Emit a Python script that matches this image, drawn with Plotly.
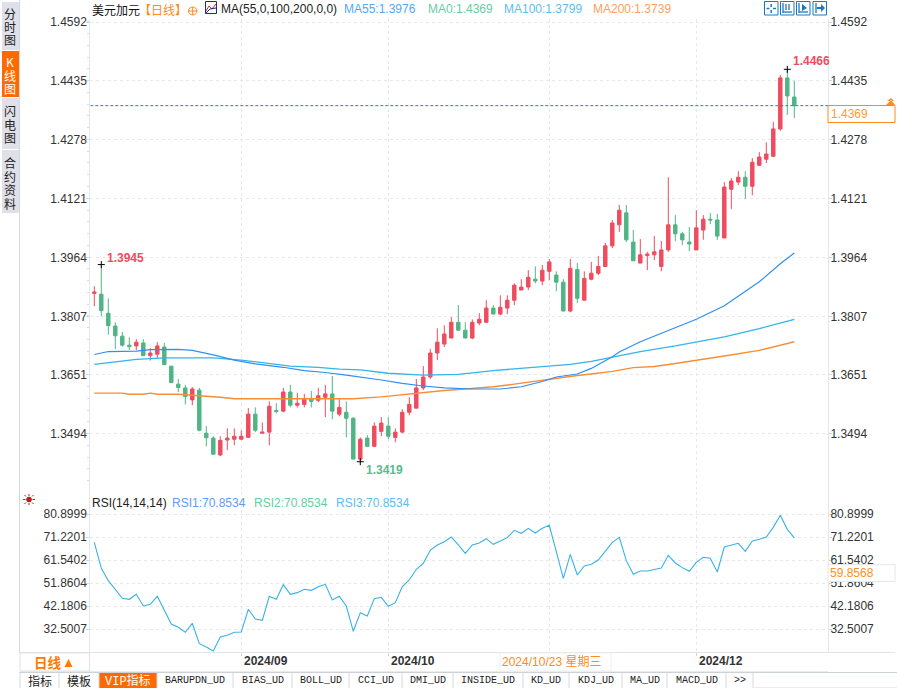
import plotly.graph_objects as go

W, H = 897, 688

candle_up = [1,0,0,0,0,0,1,0,1,1,0,0,0,0,1,0,0,0,1,1,1,1,1,0,1,1,0,1,0,1,1,0,1,1,0,1,0,0,1,0,
             1,1,0,1,1,1,1,1,1,1,1,1,0,0,1,1,1,0,1,1,1,1,1,0,1,1,0,0,1,0,1,1,1,1,1,1,0,0,1,1,
             1,1,1,0,0,0,1,1,0,0,1,1,1,0,1,1,1,1,1,0,0]
highs = [1.3887,1.3945,1.3855,1.3791,1.3765,1.3751,1.3746,1.3746,1.3722,1.3738,1.3736,1.3674,1.3640,1.3624,1.3618,1.3616,1.3514,1.3487,1.3487,1.3508,
         1.3508,1.3503,1.3562,1.3564,1.3524,1.3580,1.3575,1.3616,1.3624,1.3603,1.3600,1.3608,1.3616,1.3624,1.3648,1.3586,1.3580,1.3538,1.3484,1.3490,
         1.3524,1.3538,1.3538,1.3508,1.3559,1.3591,1.3640,1.3674,1.3720,1.3775,1.3783,1.3805,1.3837,1.3791,1.3799,1.3815,1.3850,1.3837,1.3863,1.3863,
         1.3895,1.3906,1.3930,1.3940,1.3944,1.3960,1.3927,1.3906,1.3960,1.3949,1.3927,1.3952,1.3968,1.4003,1.4064,1.4104,1.4104,1.4037,1.4013,1.3979,
         1.4021,1.4008,1.4178,1.4077,1.4032,1.4045,1.4090,1.4077,1.4083,1.4080,1.4165,1.4176,1.4194,1.4194,1.4229,1.4245,1.4271,1.4326,1.4451,1.4466,1.4435]
body_tops = [1.3872,1.3866,1.3815,1.3781,1.3754,1.3730,1.3738,1.3736,1.3709,1.3728,1.3725,1.3674,1.3626,1.3616,1.3613,1.3610,1.3495,1.3482,1.3476,1.3482,
             1.3487,1.3487,1.3546,1.3546,1.3498,1.3567,1.3556,1.3605,1.3605,1.3575,1.3586,1.3588,1.3595,1.3600,1.3600,1.3564,1.3551,1.3535,1.3479,1.3482,
             1.3514,1.3522,1.3514,1.3498,1.3551,1.3572,1.3616,1.3645,1.3709,1.3738,1.3760,1.3791,1.3791,1.3770,1.3791,1.3799,1.3829,1.3829,1.3831,1.3850,
             1.3890,1.3885,1.3911,1.3906,1.3930,1.3952,1.3917,1.3898,1.3935,1.3932,1.3908,1.3922,1.3940,1.3995,1.4056,1.4090,1.4083,1.4005,1.3971,1.3973,
             1.3979,1.3984,1.4051,1.4051,1.4027,1.4005,1.4043,1.4066,1.4066,1.4064,1.4152,1.4168,1.4178,1.4178,1.4218,1.4232,1.4240,1.4307,1.4443,1.4443,1.4392]
body_bots = [1.3868,1.3822,1.3782,1.3755,1.3730,1.3726,1.3728,1.3702,1.3702,1.3706,1.3678,1.3630,1.3617,1.3593,1.3584,1.3503,1.3483,1.3439,1.3437,1.3477,
             1.3479,1.3479,1.3484,1.3503,1.3495,1.3498,1.3553,1.3554,1.3570,1.3570,1.3572,1.3580,1.3583,1.3591,1.3554,1.3546,1.3535,1.3426,1.3426,1.3460,
             1.3460,1.3500,1.3487,1.3484,1.3498,1.3551,1.3562,1.3616,1.3645,1.3709,1.3733,1.3749,1.3770,1.3749,1.3749,1.3789,1.3791,1.3813,1.3813,1.3829,
             1.3850,1.3877,1.3885,1.3901,1.3901,1.3927,1.3898,1.3821,1.3821,1.3855,1.3850,1.3906,1.3922,1.3940,1.3995,1.4051,1.4011,1.3955,1.3949,1.3969,
             1.3971,1.3940,1.3984,1.4027,1.4011,1.4000,1.3984,1.4037,1.4064,1.4021,1.4016,1.4146,1.4165,1.4154,1.4154,1.4210,1.4226,1.4234,1.4307,1.4395,1.4369]
lows = [1.3834,1.3807,1.3758,1.3720,1.3726,1.3717,1.3717,1.3702,1.3689,1.3696,1.3678,1.3630,1.3605,1.3572,1.3570,1.3500,1.3460,1.3439,1.3434,1.3450,
        1.3463,1.3479,1.3484,1.3498,1.3495,1.3463,1.3548,1.3551,1.3564,1.3564,1.3564,1.3564,1.3578,1.3538,1.3532,1.3540,1.3484,1.3426,1.3419,1.3458,
        1.3458,1.3487,1.3479,1.3471,1.3495,1.3543,1.3562,1.3610,1.3640,1.3690,1.3725,1.3749,1.3770,1.3749,1.3746,1.3783,1.3791,1.3813,1.3810,1.3813,
        1.3837,1.3877,1.3877,1.3895,1.3890,1.3903,1.3874,1.3821,1.3818,1.3842,1.3850,1.3903,1.3917,1.3940,1.3989,1.4032,1.4005,1.3955,1.3949,1.3930,
        1.3957,1.3927,1.3979,1.4008,1.3997,1.3981,1.3984,1.4011,1.4053,1.4011,1.4016,1.4093,1.4157,1.4120,1.4130,1.4208,1.4216,1.4232,1.4302,1.4344,1.4336]
opens = [b if u else t for u, t, b in zip(candle_up, body_tops, body_bots)]
closes = [t if u else b for u, t, b in zip(candle_up, body_tops, body_bots)]

ma55_idx = [0,2,6,8,12,14,17,20,23,27,30,33,36,38,41,44,47,50,54,58,61,64,66,69,71,74,75,78,82,86,90,93,95,98,100]
ma55_val = [1.3705,1.3713,1.3714,1.3718,1.3719,1.3716,1.3704,1.3690,1.3680,1.3671,1.3662,1.3657,1.3650,1.3644,1.3637,1.3628,1.3621,1.3616,1.3613,1.3613,
            1.3619,1.3633,1.3645,1.3653,1.3668,1.3699,1.3712,1.3739,1.3770,1.3799,1.3835,1.3872,1.3899,1.3947,1.3976]
ma100_idx = [0,3,6,10,14,17,21,25,28,32,35,38,42,47,50,52,57,61,64,68,71,73,78,83,86,90,95,100]
ma100_val = [1.3679,1.3685,1.3692,1.3696,1.3697,1.3696,1.3690,1.3681,1.3674,1.3671,1.3666,1.3664,1.3655,1.3650,1.3650,1.3652,1.3662,1.3668,1.3673,1.3679,
             1.3687,1.3694,1.3713,1.3728,1.3739,1.3752,1.3774,1.3799]
ma200_idx = [0,4,5,7,8,9,12,15,18,20,37,41,44,47,50,53,57,60,64,67,69,71,74,77,80,83,86,90,95,100]
ma200_val = [1.3602,1.3602,1.3599,1.3599,1.3602,1.3599,1.3599,1.3596,1.3591,1.3587,1.3587,1.3592,1.3598,1.3603,1.3609,1.3613,1.3619,1.3626,1.3637,1.3644,
             1.3649,1.3653,1.3660,1.3670,1.3673,1.3681,1.3689,1.3701,1.3716,1.3739]

rsi = [68.98,58.04,52.85,48.92,45.42,45.00,47.10,42.19,42.89,46.26,40.51,34.62,33.22,31.11,34.90,26.34,24.94,23.26,29.15,29.85,
       31.11,31.25,40.79,36.72,36.16,46.26,45.00,51.17,47.10,47.80,49.21,48.78,50.33,51.31,44.72,46.26,42.19,31.53,39.39,37.99,
       45.28,45.84,42.05,43.60,50.33,53.13,57.62,60.14,65.61,67.86,69.26,71.22,67.86,64.35,67.86,68.70,70.52,68.14,69.54,70.94,
       74.03,72.77,74.87,72.91,74.87,76.13,65.05,53.83,63.93,55.24,59.02,59.72,61.55,65.33,68.98,71.08,61.27,55.52,56.92,56.92,
       57.62,58.18,63.51,60.29,58.32,56.78,60.57,62.67,62.25,56.50,67.02,67.72,68.56,65.19,69.54,70.24,71.22,75.29,80.34,74.45,70.85]

price_ticks = [1.4592,1.4435,1.4278,1.4121,1.3964,1.3807,1.3651,1.3494]
rsi_ticks = [80.8999,71.2201,61.5402,51.8604,42.1806,32.5007]
month_idx = [21,42,65,86]
month_labels = ["2024/09","2024/10","","2024/12"]
last_close = 1.4369
top_tabs = ["BARUPDN_UD","BIAS_UD","BOLL_UD","CCI_UD","DMI_UD","INSIDE_UD","KD_UD","KDJ_UD","MA_UD","MACD_UD",">>"]

RED, GREEN = "#ee4d5f", "#50b585"
BLUE, SKY, ORANGE = "#2f8ff5", "#33b5e8", "#f98d35"
GRID = "#e8e8e8"
SANS = "Liberation Sans, Arial, sans-serif"
CJK = "Noto Sans CJK SC, sans-serif"
MONO = "Liberation Mono, monospace"

idx = list(range(len(highs)))

def fx(p): return p / W
def fy(p): return 1 - p / H

x_range = [(90.3 - 94.3) / 7, (828 - 94.3) / 7]
PX = 0.0002668
price_range = [1.4466 - (492 - 69.3) * PX, 1.4466 + (69.3 - 19) * PX]
rsi_range = [32.5007 - (652.3 - 629) / 2.376, 80.8999 + (514 - 492.3) / 2.376]

fig = go.Figure()
fig.add_trace(go.Scatter(x=ma200_idx, y=ma200_val, mode="lines", line=dict(color=ORANGE, width=1.4), hoverinfo="skip"))
fig.add_trace(go.Scatter(x=ma100_idx, y=ma100_val, mode="lines", line=dict(color=SKY, width=1.3), hoverinfo="skip"))
fig.add_trace(go.Scatter(x=ma55_idx, y=ma55_val, mode="lines", line=dict(color=BLUE, width=1.2), hoverinfo="skip"))
fig.add_trace(go.Candlestick(x=idx, open=opens, high=highs, low=lows, close=closes,
                             increasing=dict(line=dict(color=RED, width=1), fillcolor=RED),
                             decreasing=dict(line=dict(color=GREEN, width=1), fillcolor=GREEN),
                             whiskerwidth=0))
ext_i = [1, 38, 99]
ext_v = [highs[1], lows[38], highs[99]]
fig.add_trace(go.Scatter(x=ext_i, y=ext_v, mode="markers",
                         marker=dict(symbol="cross-thin", size=5, line=dict(color="#000", width=1)), hoverinfo="skip"))
fig.add_trace(go.Scatter(x=idx, y=rsi, xaxis="x2", yaxis="y2", mode="lines",
                         line=dict(color="#38b2e6", width=1.1), hoverinfo="skip"))
fig.add_trace(go.Scatter(x=[0], y=[price_ticks[0]], yaxis="y3", mode="lines", opacity=0, hoverinfo="skip"))
fig.add_trace(go.Scatter(x=[0], y=[rsi_ticks[0]], xaxis="x2", yaxis="y4", mode="lines", opacity=0, hoverinfo="skip"))

tick_font = dict(family=SANS, size=12, color="#333")
common_y = dict(showgrid=True, gridcolor=GRID, griddash="dot", gridwidth=1, zeroline=False,
                tickfont=tick_font, ticks="outside", ticklen=3, tickcolor="#cfd5dc",
                showline=True, linecolor="#e4e8ec", linewidth=1, tickmode="array", automargin=False)
common_x = dict(range=x_range, domain=[fx(90.3), fx(828)], showgrid=True, gridcolor=GRID, griddash="dot",
                tickmode="array", tickvals=month_idx, ticktext=[""] * 4, zeroline=False, rangeslider=dict(visible=False), automargin=False)
fig.update_layout(
    width=W, height=H, autosize=False, showlegend=False, paper_bgcolor="white", plot_bgcolor="white",
    margin=dict(l=0, r=0, t=0, b=0, pad=0, autoexpand=False), boxgap=0.3,
    xaxis=dict(**common_x, anchor="y", showticklabels=False),
    xaxis2=dict(**common_x, anchor="y2", ticks="outside", ticklen=3, tickcolor="#cfd5dc"),
    yaxis=dict(**common_y, domain=[fy(492), fy(19)], range=price_range, tickvals=price_ticks, ticklabelstandoff=-3,
               ticktext=[f"{v:.4f}" for v in price_ticks], anchor="x",
               minor=dict(tickmode="linear", tick0=price_ticks[-1], dtick=0.00314, ticks="outside", ticklen=2, tickcolor="#d8dce2")),
    yaxis2=dict(**common_y, domain=[fy(652.3), fy(492.3)], range=rsi_range, tickvals=rsi_ticks, ticklabelstandoff=-3,
                ticktext=[f"{v:.4f}" for v in rsi_ticks], anchor="x2"),
    yaxis3=dict(**{**common_y, "showgrid": False}, domain=[fy(492), fy(19)], range=price_range, tickvals=price_ticks, ticklabelstandoff=-4,
                ticktext=[f"{v:.4f}" for v in price_ticks], overlaying="y", side="right", anchor="x"),
    yaxis4=dict(**{**common_y, "showgrid": False}, domain=[fy(652.3), fy(492.3)], range=rsi_range, tickvals=rsi_ticks, ticklabelstandoff=-4,
                ticktext=[f"{v:.4f}" for v in rsi_ticks], overlaying="y2", side="right", anchor="x2"),
)

shapes, notes = [], []

def rect(x0, y0, x1, y1, fill=None, line=None, lw=1, layer="above"):
    shapes.append(dict(type="rect", xref="paper", yref="paper", x0=fx(x0), x1=fx(x1), y0=fy(y0), y1=fy(y1),
                       fillcolor=fill or "rgba(0,0,0,0)", line=dict(color=line or "rgba(0,0,0,0)", width=lw if line else 0), layer=layer))

def seg(x0, y0, x1, y1, color, lw=1, dash="solid"):
    shapes.append(dict(type="line", xref="paper", yref="paper", x0=fx(x0), x1=fx(x1), y0=fy(y0), y1=fy(y1),
                       line=dict(color=color, width=lw, dash=dash), layer="above"))

def text(x, y, s, color="#222", size=12, family=SANS, anchor="left"):
    notes.append(dict(xref="paper", yref="paper", x=fx(x), y=fy(y), text=s, showarrow=False, xanchor=anchor, yanchor="middle",
                      font=dict(color=color, size=size, family=family), borderpad=0, borderwidth=0))

shapes.append(dict(type="line", xref="x", yref="y", x0=x_range[0], x1=x_range[1], y0=last_close, y1=last_close,
                   line=dict(color="#1a7fe0", width=1, dash="3px,2px"), layer="above"))

text(92, 9, "美元加元", "#111", 12, CJK)
text(139, 9, "【日线】", "#ff8a1e", 12, CJK)
shapes.append(dict(type="circle", xref="paper", yref="paper", x0=fx(188.5), x1=fx(197), y0=fy(15), y1=fy(7),
                   line=dict(color="#ff8a1e", width=1), layer="above"))
seg(188.5, 11, 197, 11, "#ff8a1e")
seg(192.7, 7, 192.7, 15, "#ff8a1e")
rect(205.5, 1.5, 216.5, 13.5, "#fff", "#1c2f7a", 1)
seg(206, 11, 209, 6, "#d22")
seg(209, 6, 212, 9, "#d22")
seg(212, 9, 216, 4, "#d22")
seg(206, 13, 210, 9, "#1c2f7a")
seg(210, 9, 216, 8, "#1c2f7a")
text(221, 9, "MA(55,0,100,200,0,0)", "#222", 12)
text(344, 9, "MA55:1.3976", "#55a6fb", 12)
text(427.5, 9, "MA0:1.4369", "#62cf9f", 12)
text(503.5, 9, "MA100:1.3799", "#5cbdf0", 12)
text(593, 9, "MA200:1.3739", "#ff9e5e", 12)

for x0 in (764.5, 780.5, 796.5, 813):
    rect(x0, 1.5, x0 + 13.5, 15, "#fff", "#1a78c2", 1)
seg(771.2, 4, 771.2, 7, "#1a78c2", 1.5); seg(771.2, 10, 771.2, 13, "#1a78c2", 1.5)
seg(766.5, 8.5, 769.5, 8.5, "#1a78c2", 1.5); seg(773, 8.5, 776, 8.5, "#1a78c2", 1.5)
seg(783, 3, 783, 13, "#1a78c2", 1.3); seg(783, 12, 792, 12, "#1a78c2", 1.3); seg(786, 4, 786, 10, "#1a78c2", 1.3); seg(789, 4, 789, 10, "#1a78c2", 1.3)
seg(799, 3, 799, 13, "#1a78c2", 1.3); seg(799, 12, 808, 12, "#1a78c2", 1.3)
shapes.append(dict(type="path", xref="paper", yref="paper", path=f"M {fx(802)} {fy(4)} L {fx(807)} {fy(8)} L {fx(802)} {fy(11)} Z",
                   fillcolor="#1a78c2", line=dict(width=0), layer="above"))
seg(816, 3, 816, 13, "#1a78c2", 1.3)
shapes.append(dict(type="path", xref="paper", yref="paper", path=f"M {fx(821)} {fy(4)} L {fx(825)} {fy(8)} L {fx(821)} {fy(12)} Z",
                   fillcolor="#1a78c2", line=dict(width=0), layer="above"))
seg(817, 8, 822, 8, "#1a78c2", 2)

for i_, v_, s_, c_, xs, ys in [(1, highs[1], "1.3945", RED, 3.5, 7),
                               (38, lows[38], "1.3419", "#58bb8f", 4, -8),
                               (99, highs[99], "1.4466", RED, 3.5, 8)]:
    notes.append(dict(xref="x", yref="y", x=i_, y=v_, text=f"<b>{s_}</b>", showarrow=False, xanchor="left", yanchor="middle",
                      xshift=xs, yshift=ys, font=dict(color=c_, size=12, family=SANS)))

rect(828, 105.5, 895, 122.5, "#fff", "#ff8a1e", 1)
text(831, 114, "1.4369", "#ff9a3a", 12)
shapes.append(dict(type="path", xref="paper", yref="paper",
                   path=f"M {fx(886)} {fy(105)} L {fx(891)} {fy(100)} L {fx(895)} {fy(105)} Z M {fx(887)} {fy(101)} L {fx(891)} {fy(98)} L {fx(894)} {fy(101)} Z",
                   fillcolor="#ff8a1e", line=dict(width=0), layer="above"))

shapes.append(dict(type="circle", xref="paper", yref="paper", x0=fx(26.5), x1=fx(31.5), y0=fy(502), y1=fy(497),
                   fillcolor="#e01010", line=dict(color="#222", width=0.5), layer="above"))
for a, b, c, d in [(29, 494, 29, 496), (29, 503, 29, 505), (23, 499.5, 25.5, 499.5), (32.5, 499.5, 35, 499.5),
                   (24.5, 495, 26, 496.5), (32, 502.5, 33.5, 504), (24.5, 504, 26, 502.5), (32, 496.5, 33.5, 495)]:
    seg(a, b, c, d, "#e01010")
text(92, 503, "RSI(14,14,14)", "#222", 12)
text(171.5, 503, "RSI1:70.8534", "#5c9dfa", 12)
text(253.5, 503, "RSI2:70.8534", "#62cf9f", 12)
text(335.5, 503, "RSI3:70.8534", "#5cbdf0", 12)
rect(828, 564.7, 895, 581.5, "#fff", "#e6e6e6", 1)
text(829.5, 573, "59.8568", "#ff9020", 12)

seg(19.5, 652.5, 895, 652.5, "#dfe5ea")
seg(20, 671.5, 828, 671.5, "#e8ecf0")
rect(20, 653, 89.5, 671, "#fff", "#dde2e8", 1)
text(34, 662, "<b>日线</b>", "#ff7a00", 13.5, CJK)
shapes.append(dict(type="path", xref="paper", yref="paper", path=f"M {fx(64.5)} {fy(667)} L {fx(68.5)} {fy(659)} L {fx(72.5)} {fy(667)} Z",
                   fillcolor="#ff7a00", line=dict(width=0), layer="above"))
for i_, s_ in zip(month_idx, month_labels):
    if s_:
        notes.append(dict(xref="x2", yref="paper", x=i_, y=fy(661), text=f"<b>{s_}</b>", showarrow=False, xanchor="left", yanchor="middle",
                          xshift=1, font=dict(color="#333", size=12, family=SANS)))
rect(500, 653, 611, 671, "#fff", "#f0f0f0", 1)
text(502, 661.5, "2024/10/23 星期三", "#ff8a1e", 12, SANS + ", Noto Sans CJK SC")

seg(19, 672.5, 897, 672.5, "#ccd2d8")
tab_edges = [20, 59, 99, 157, 233, 292, 349, 402, 453, 523, 569, 622, 667, 726, 753]
rect(99, 673, 157, 688, "#ff6a00")
for e in tab_edges:
    seg(e, 673, e, 688, "#d4d8dc")
seg(753, 688, 897, 688, "#d4d8dc")
text(39.5, 680.5, "指标", "#222", 12, CJK, "center")
text(79, 680.5, "模板", "#222", 12, CJK, "center")
text(128, 680.5, "VIP指标", "#fff", 12, MONO + ", Noto Sans CJK SC", "center")
for k, s_ in enumerate(top_tabs):
    text((tab_edges[k + 3] + tab_edges[k + 4]) / 2, 680.5, s_, "#222", 10, MONO, "center")

seg(19.5, 0, 19.5, 653, "#d4d8e0")
rect(2, 2, 19, 50, "#dfe0e8")
rect(2, 51, 19, 97, "#ff6a00")
rect(2, 98, 19, 149, "#dfe0e8")
rect(2, 150, 19, 213, "#dfe0e8")
for chars, y0, col in [("分时图", 13, "#222"), ("K线图", 62, "#fff"), ("闪电图", 111, "#222"), ("合约资料", 163, "#222")]:
    for k, ch in enumerate(chars):
        text(10, y0 + k * 13.4, ch, col, 12, CJK, "center")

fig.update_layout(shapes=shapes, annotations=notes)
fig.write_html("out.html", post_script="document.body.style.margin='0';document.body.style.overflow='hidden';", config=dict(displayModeBar=False))
